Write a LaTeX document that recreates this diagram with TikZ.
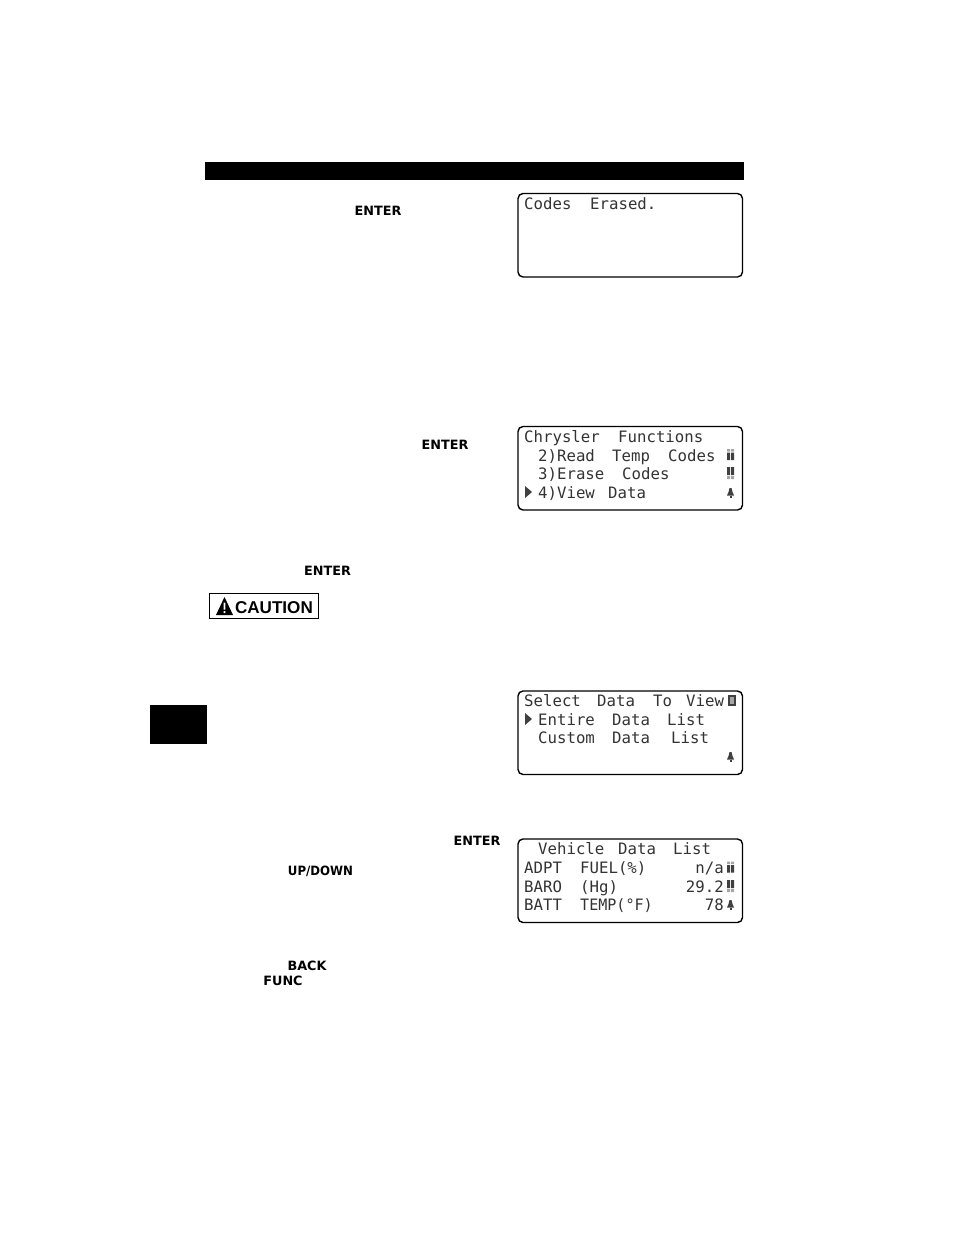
\documentclass[tikz,border=0pt]{standalone}
\usepackage{fontspec}
\setmainfont{Liberation Sans}
\newfontfamily\lcdfont{DejaVu Sans Mono}
\newfontfamily\keyfont{DejaVu Sans Bold}
\newcommand{\upmark}[2]{%
  \fill[icondot] (#1-3.5,#2-5.5) rectangle (#1-0.5,#2-3) (#1+0.5,#2-5.5) rectangle (#1+3.5,#2-3);
  \fill[icon] (#1-3.5,#2-2) rectangle (#1-0.5,#2+5.5) (#1+0.5,#2-2) rectangle (#1+3.5,#2+5.5);}
\newcommand{\midmark}[2]{%
  \fill[icon] (#1-3.5,#2-6) rectangle (#1-0.5,#2+2) (#1+0.5,#2-6) rectangle (#1+3.5,#2+2);
  \fill[icondot] (#1-3.5,#2+3) rectangle (#1-0.5,#2+6) (#1+0.5,#2+3) rectangle (#1+3.5,#2+6);}
\newcommand{\bellmark}[2]{%
  \fill[icon] (#1-1,#2-5) -- (#1+1,#2-5) -- (#1+2,#2-1) -- (#1+3.5,#2+2.5) -- (#1-3.5,#2+2.5) -- (#1-2,#2-1) -- cycle;
  \fill[icon] (#1-1,#2+3) rectangle (#1+1,#2+5);}
\newcommand{\curmark}[2]{%
  \fill[icon] (#1-3.5,#2-6) -- (#1+3.5,#2) -- (#1-3.5,#2+6) -- cycle;}
\begin{document}
\begin{tikzpicture}[x=1pt,y=-1pt,
  lcdbox/.style={draw=black,line width=1.4pt,rounded corners=5pt,fill=white},
  lcd/.style={anchor=base west,inner sep=0pt,yshift=-0.7pt,text=black!80,font=\lcdfont\fontsize{15.7}{18}\selectfont},
  lcdr/.style={lcd,anchor=base east},
  key/.style={anchor=center,inner sep=0pt,text=black,font=\keyfont\fontsize{12.8}{14}\selectfont},
  icon/.style={fill=black!75},
  icondot/.style={fill=black!35}]
\useasboundingbox (0,0) rectangle (954,1235);
\fill[black] (205,162) rectangle (744,180);
\fill[black] (150,705) rectangle (207,744);

\draw[lcdbox] (518,193.5) rectangle (742.5,277);
\node[lcd] (a1) at (524,208.5) {Codes};
\node[lcd] (a2) at (590,208.5) {Erased.};

\draw[lcdbox] (518,426.5) rectangle (742.5,510);
\node[lcd] (b1) at (524,441.5) {Chrysler};
\node[lcd] (b1b) at (618,441.5) {Functions};
\node[lcd] (b2) at (538,460.5) {2)Read};
\node[lcd] (b2b) at (612,460.5) {Temp};
\node[lcd] (b2c) at (668,460.5) {Codes};
\node[lcd] (b3) at (538,478.5) {3)Erase};
\node[lcd] (b3b) at (622,478.5) {Codes};
\node[lcd] (b4) at (538,497.5) {4)View};
\node[lcd] (b4b) at (608,497.5) {Data};
\upmark{730.5}{454.5}
\midmark{730.5}{473}
\bellmark{730.5}{493}
\curmark{528.5}{492}

\draw[lcdbox] (518,691) rectangle (742.5,774.5);
\node[lcd] (c1) at (524,705.5) {Select};
\node[lcd] (c1b) at (597,705.5) {Data};
\node[lcd] (c1c) at (653,705.5) {To};
\node[lcd] (c1d) at (686,705.5) {View};
\node[lcd] (c2) at (538,724.5) {Entire};
\node[lcd] (c2b) at (612,724.5) {Data};
\node[lcd] (c2c) at (667,724.5) {List};
\node[lcd] (c3) at (538,742.5) {Custom};
\node[lcd] (c3b) at (612,742.5) {Data};
\node[lcd] (c3c) at (671,742.5) {List};
\fill[icon] (727.5,695) rectangle (735.5,705.5);
\fill[icondot] (729.5,697) rectangle (733.5,703.5);
\curmark{528.5}{719}
\bellmark{730.5}{757}

\draw[lcdbox] (518,839) rectangle (742.5,922.5);
\node[lcd] (d1) at (538,853.5) {Vehicle};
\node[lcd] (d1b) at (618,853.5) {Data};
\node[lcd] (d1c) at (673,853.5) {List};
\node[lcd] (d2) at (524,872.5) {ADPT};
\node[lcd] (d2b) at (580,872.5) {FUEL(\%)};
\node[lcdr] (d2r) at (724,872.5) {n/a};
\node[lcd] (d3) at (524,891.5) {BARO};
\node[lcd] (d3b) at (580,891.5) {(Hg)};
\node[lcdr] (d3r) at (724,891.5) {29.2};
\node[lcd] (d4) at (524,909.5) {BATT};
\node[lcd] (d4b) at (580,909.5) {\scalebox{.96}[1]{TEMP(°F)}};
\node[lcdr] (d4r) at (724,909.5) {78};
\upmark{730.5}{867}
\midmark{730.5}{886}
\bellmark{730.5}{905}

\node[key] (k1) at (378,210.5) {ENTER};
\node[key] (k2) at (445,444.5) {ENTER};
\node[key] (k3) at (327.5,570.5) {ENTER};
\node[key] (k4) at (477,840.5) {ENTER};
\node[key] (k5) at (320.5,871.5) {\scalebox{.92}[1]{UP/DOWN}};
\node[key] (k6) at (307,965.5) {BACK};
\node[key] (k7) at (283,980.5) {FUNC};

\draw[black,line width=1pt] (209.5,593.5) rectangle (318.5,618.5);
\fill[black] (224.5,597) -- (233,615) -- (216,615) -- cycle;
\fill[white] (223.6,602.5) rectangle (225.4,609.5) (223.6,611) rectangle (225.4,613);
\node[anchor=base west,inner sep=0pt,font=\bfseries\fontsize{17.1}{20}\selectfont] (caution) at (234.8,613.5) {CAUTION};
\end{tikzpicture}
\end{document}
